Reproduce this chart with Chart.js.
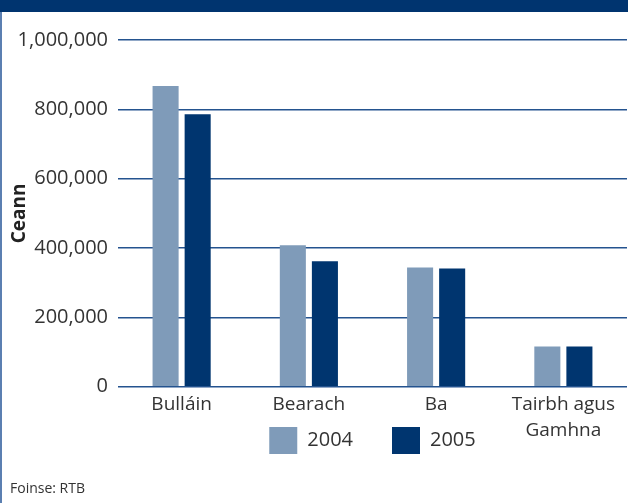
<!DOCTYPE html>
<html>
<head>
<meta charset="utf-8">
<script src="https://cdn.jsdelivr.net/npm/chart.js@4"></script>
<style>
  body { margin: 0; background: #fff; }
  #wrap { position: relative; width: 628px; height: 503px; overflow: hidden; }
  #myChart { position: absolute; left: 0; top: 0; }
  #band { position: absolute; left: 0; top: 0; width: 628px; height: 12px; background: #00346f; }
  #edge { position: absolute; left: 0; top: 12px; width: 2px; height: 491px; background: #5b7fb1; }
  #source { position: absolute; left: 10px; top: 478px; font: 14px "Open Sans", sans-serif; color: #333; }
</style>
</head>
<body>
<div id="wrap">
  <canvas id="myChart" width="628" height="503"></canvas>
  <div id="band"></div>
  <div id="edge"></div>
  <div id="source">Foinse: RTB</div>
</div>
<script>
var categories = ['Bulláin', 'Bearach', 'Ba', ['Tairbh agus', 'Gamhna']];
var values2004 = [867000, 408000, 344000, 116000];
var values2005 = [786000, 362000, 341000, 116000];
var yTicks = [0, 200000, 400000, 600000, 800000, 1000000];

// centre the legend under the plot and pull it up closer to the axis labels
var legendShift = {
    id: 'legendShift',
    afterLayout: function (chart) {
        var l = chart.legend;
        l.left = chart.chartArea.left;
        l.right = chart.chartArea.right;
        l.top -= 52;
        l.bottom -= 52;
    }
};

var ctx = document.getElementById('myChart');
var myChart = new Chart(ctx, {
    type: 'bar',
    data: {
        labels: categories,
        datasets: [{
            label: '2004',
            data: values2004,
            backgroundColor: '#7f9bb9',
            categoryPercentage: 0.504,
            barPercentage: 0.8125
        }, {
            label: '2005',
            data: values2005,
            backgroundColor: '#00356f',
            categoryPercentage: 0.504,
            barPercentage: 0.8125
        }]
    },
    options: {
        responsive: false,
        animation: false,
        layout: { padding: { top: 40, right: 1, left: 0, bottom: -13 } },
        plugins: {
            tooltip: { enabled: false },
            legend: {
                position: 'bottom',
                labels: {
                    boxWidth: 28,
                    boxHeight: 27,
                    padding: 39,
                    color: '#333',
                    font: { family: 'Open Sans', size: 20 }
                }
            }
        },
        scales: {
            x: {
                grid: { display: false },
                border: { display: false },
                ticks: {
                    color: '#333',
                    padding: -3,
                    maxRotation: 0,
                    font: { family: 'Open Sans', size: 19, lineHeight: 1.35 }
                }
            },
            y: {
                min: 0,
                max: 1000000,
                afterBuildTicks: function (scale) {
                    scale.ticks = yTicks.map(function (v) { return { value: v }; });
                },
                afterFit: function (scale) { scale.width = 118; },
                grid: { color: '#24538f', lineWidth: 1.5, drawTicks: false },
                border: { display: false },
                ticks: {
                    color: '#333',
                    padding: 10,
                    font: { family: 'Open Sans', size: 20 },
                    callback: function (v) { return v.toLocaleString('en-US'); }
                },
                title: {
                    display: true,
                    text: 'Ceann',
                    color: '#222',
                    padding: { top: 8, bottom: 0 },
                    font: { family: 'Open Sans', size: 19, weight: 'bold' }
                }
            }
        }
    },
    plugins: [legendShift]
});
</script>
</body>
</html>
